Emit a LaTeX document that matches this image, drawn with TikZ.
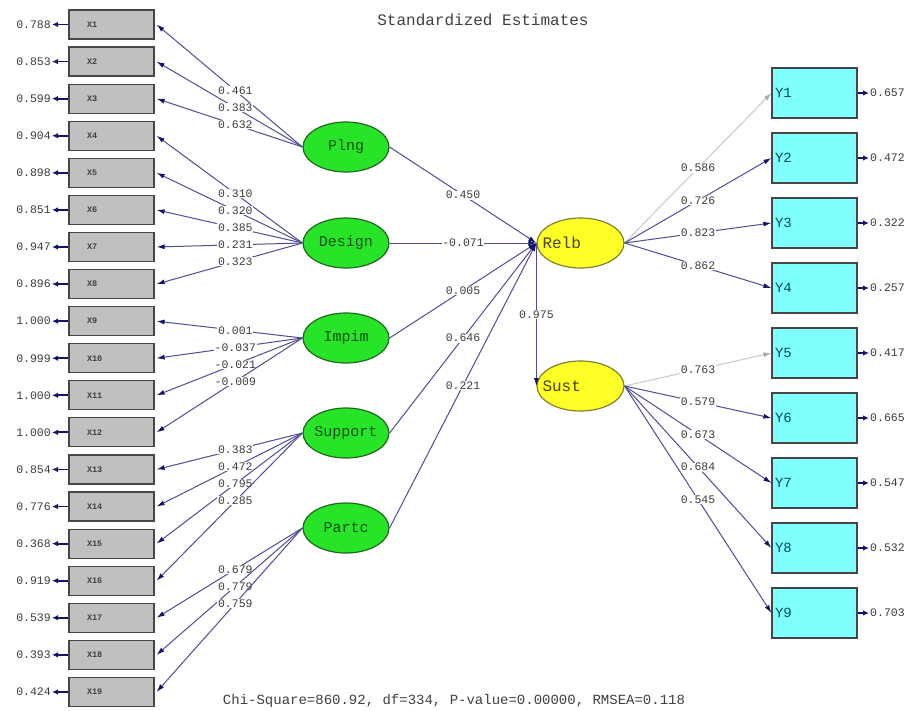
\documentclass[tikz,border=0pt]{standalone}
\usepackage{fontspec}
\setmonofont{Liberation Mono}
\usetikzlibrary{arrows.meta,shapes.geometric}
\definecolor{linecol}{RGB}{78,78,150}
\definecolor{headcol}{RGB}{20,20,110}
\definecolor{fixcol}{RGB}{200,200,205}
\definecolor{boxgray}{RGB}{192,192,192}
\definecolor{boxedge}{RGB}{70,70,70}
\definecolor{latgreen}{RGB}{40,228,40}
\definecolor{greenedge}{RGB}{30,105,30}
\definecolor{greentext}{RGB}{20,80,20}
\definecolor{latyellow}{RGB}{255,255,40}
\definecolor{yellowedge}{RGB}{130,130,40}
\definecolor{yellowtext}{RGB}{75,65,0}
\definecolor{boxcyan}{RGB}{128,255,255}
\definecolor{cyantext}{RGB}{0,75,95}
\definecolor{numcol}{RGB}{60,60,60}
\begin{document}
\begin{tikzpicture}[x=1pt,y=-1pt,
  xbox/.style={draw=boxedge, fill=boxgray, line width=1.2pt, minimum width=85pt, minimum height=29pt,
    inner xsep=18pt, inner ysep=0pt, text width=49pt, align=left, text=black!75,
    font=\ttfamily\bfseries\fontsize{8.5}{10}\selectfont},
  ybox/.style={draw=boxedge, fill=boxcyan, line width=1.2pt, minimum width=85pt, minimum height=50pt,
    inner xsep=3pt, inner ysep=0pt, text width=79pt, align=left, text=cyantext,
    font=\ttfamily\fontsize{14}{15}\selectfont},
  latg/.style={ellipse, draw=greenedge, fill=latgreen, line width=1.2pt, minimum width=86pt, minimum height=50pt,
    inner sep=0pt, text=greentext, font=\ttfamily\fontsize{15}{16}\selectfont},
  laty/.style={ellipse, draw=yellowedge, fill=latyellow, line width=1.2pt, minimum width=87pt, minimum height=50pt,
    inner sep=0pt, text=yellowtext, font=\ttfamily\fontsize{16}{17}\selectfont},
  load/.style={draw=linecol, line width=1pt, -{Latex[length=8pt,width=5pt,color=headcol]}},
  fixed/.style={draw=fixcol, line width=1pt, -{Latex[length=8pt,width=5pt,color=fixcol!85!black]}},
  err/.style={draw=headcol, line width=1.8pt, -{Latex[length=6pt,width=5.5pt]}},
  lbl/.style={fill=white, inner sep=0.6pt, text=numcol, font=\ttfamily\fontsize{11.5}{12}\selectfont},
  errtxt/.style={inner sep=1pt, text=numcol, font=\ttfamily\fontsize{11.5}{12}\selectfont}
]
\useasboundingbox[fill=white] (0,0) rectangle (913,710);

% title and fit line
\node[text=black!75, font=\ttfamily\fontsize{16}{17}\selectfont] (title) at (483,20) {Standardized Estimates};
\node[text=black!75, font=\ttfamily\fontsize{14}{15}\selectfont] (fitline) at (454,701) {Chi-Square=860.92, df=334, P-value=0.00000, RMSEA=0.118};

% observed X variables with error terms
\foreach \i/\e in {1/0.788,2/0.853,3/0.599,4/0.904,5/0.898,6/0.851,7/0.947,8/0.896,9/1.000,10/0.999,
                   11/1.000,12/1.000,13/0.854,14/0.776,15/0.368,16/0.919,17/0.539,18/0.393,19/0.424}{
  \node[xbox] (X\i) at (111.5,{24.5+37.08*(\i-1)}) {X\i};
  \node[errtxt, anchor=east] (ex\i) at (52,{24.5+37.08*(\i-1)}) {\e};
  \draw[err] (X\i.west) -- (ex\i.east);
}

% observed Y variables with error terms
\foreach \j/\e in {1/0.657,2/0.472,3/0.322,4/0.257,5/0.417,6/0.665,7/0.547,8/0.532,9/0.703}{
  \node[ybox] (Y\j) at (814.5,{93+65*(\j-1)}) {Y\j};
  \node[errtxt, anchor=west] (ey\j) at (869,{93+65*(\j-1)}) {\e};
  \draw[err] (Y\j.east) -- (ey\j.west);
}

% latent variables
\node[latg] (Plng)    at (346,147) {\makebox[0pt]{Plng}};
\node[latg] (Design)  at (346,243) {\makebox[0pt]{Design}};
\node[latg] (Impim)   at (346,338) {\makebox[0pt]{Impim}};
\node[latg] (Support) at (346,433) {\makebox[0pt]{Support}};
\node[latg] (Partc)   at (346,528) {\makebox[0pt]{Partc}};
\node[laty] (Relb) at (580.5,243) {\makebox[0pt][l]{\kern-38pt Relb}};
\node[laty] (Sust) at (580.5,386) {\makebox[0pt][l]{\kern-38pt Sust}};

% measurement loadings (X side)
\foreach \l/\i/\v in {Plng/1/0.461,Plng/2/0.383,Plng/3/0.632,
  Design/4/0.310,Design/5/0.320,Design/6/0.385,Design/7/0.231,Design/8/0.323,
  Impim/9/0.001,Impim/10/-0.037,Impim/11/-0.021,Impim/12/-0.009,
  Support/13/0.383,Support/14/0.472,Support/15/0.795,Support/16/0.285,
  Partc/17/0.679,Partc/18/0.779,Partc/19/0.759}{
  \draw[load] (\l.west) -- node[lbl, pos=0.46] {\v} ([xshift=2pt]X\i.east);
}

% structural paths
\draw[load] (Plng.east)    -- node[lbl] {0.450}  (Relb.west);
\draw[load] (Design.east)  -- node[lbl] {-0.071} (Relb.west);
\draw[load] (Impim.east)   -- node[lbl] {0.005}  (Relb.west);
\draw[load] (Support.east) -- node[lbl] {0.646}  (Relb.west);
\draw[load] (Partc.east)   -- node[lbl] {0.221}  (Relb.west);
\draw[load] (Relb.west)    -- node[lbl, pos=0.5] {0.975} (Sust.west);

% measurement loadings (Y side)
\draw[fixed] (Relb.east) -- node[lbl] {0.586} (Y1.west);
\draw[load]  (Relb.east) -- node[lbl] {0.726} (Y2.west);
\draw[load]  (Relb.east) -- node[lbl] {0.823} (Y3.west);
\draw[load]  (Relb.east) -- node[lbl] {0.862} (Y4.west);
\draw[fixed] (Sust.east) -- node[lbl] {0.763} (Y5.west);
\draw[load]  (Sust.east) -- node[lbl] {0.579} (Y6.west);
\draw[load]  (Sust.east) -- node[lbl] {0.673} (Y7.west);
\draw[load]  (Sust.east) -- node[lbl] {0.684} (Y8.west);
\draw[load]  (Sust.east) -- node[lbl] {0.545} (Y9.west);
\end{tikzpicture}
\end{document}
